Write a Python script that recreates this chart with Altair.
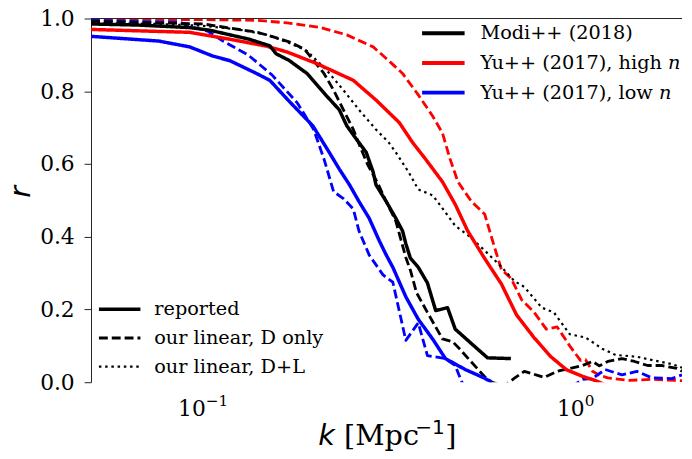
import altair as alt
import pandas as pd

# ---------------- data ----------------
modi_rep_k = [0.050, 0.067, 0.092, 0.104, 0.133, 0.151, 0.157, 0.170, 0.190, 0.215, 0.232, 0.243, 0.258, 0.274, 0.286,
              0.291, 0.310, 0.329, 0.343, 0.350, 0.360, 0.378, 0.400, 0.421, 0.453, 0.475, 0.520, 0.580, 0.670]
modi_rep_r = [0.985, 0.982, 0.975, 0.968, 0.943, 0.925, 0.903, 0.885, 0.849, 0.786, 0.749, 0.705, 0.668, 0.632, 0.578,
              0.543, 0.497, 0.451, 0.416, 0.381, 0.341, 0.316, 0.273, 0.197, 0.205, 0.146, 0.110, 0.067, 0.065]

yuh_rep_k = [0.050, 0.092, 0.118, 0.148, 0.168, 0.202, 0.253, 0.291, 0.336, 0.365, 0.395, 0.439, 0.475, 0.513, 0.570,
             0.632, 0.694, 0.774, 0.858, 0.946, 1.044, 1.127, 1.220]
yuh_rep_r = [0.970, 0.962, 0.943, 0.924, 0.908, 0.876, 0.830, 0.776, 0.714, 0.659, 0.614, 0.551, 0.489, 0.416, 0.340,
             0.270, 0.185, 0.122, 0.070, 0.034, 0.016, 0.005, -0.010]

yul_rep_k = [0.050, 0.076, 0.092, 0.106, 0.118, 0.139, 0.151, 0.170, 0.197, 0.218, 0.232, 0.247, 0.262, 0.279, 0.297,
             0.310, 0.323, 0.350, 0.378, 0.413, 0.447, 0.505, 0.570, 0.595]
yul_rep_r = [0.951, 0.938, 0.922, 0.897, 0.884, 0.849, 0.830, 0.773, 0.705, 0.632, 0.586, 0.543, 0.497, 0.451, 0.389,
             0.350, 0.316, 0.235, 0.173, 0.119, 0.065, 0.035, 0.011, 0.000]

modi_d_k = [0.050, 0.100, 0.114, 0.140, 0.155, 0.171, 0.187, 0.198, 0.211, 0.224, 0.238, 0.253, 0.262, 0.276, 0.295,
            0.310, 0.329, 0.350, 0.360, 0.374, 0.400, 0.439, 0.468, 0.490, 0.520, 0.570, 0.595, 0.644, 0.685, 0.728,
            0.790, 0.823, 0.892, 0.964, 1.044, 1.110, 1.158, 1.220, 1.332, 1.440, 1.560, 1.700, 1.870, 1.930]
modi_d_r = [0.992, 0.985, 0.976, 0.962, 0.949, 0.935, 0.916, 0.884, 0.849, 0.803, 0.749, 0.695, 0.655, 0.600, 0.545,
            0.497, 0.443, 0.343, 0.308, 0.246, 0.192, 0.119, 0.111, 0.090, 0.060, 0.015, 0.000, -0.010, 0.011, 0.030,
            0.019, 0.013, 0.030, 0.038, 0.046, 0.057, 0.045, 0.057, 0.065, 0.057, 0.046, 0.046, 0.038, 0.030]

modi_dl_k = [0.050, 0.076, 0.100, 0.124, 0.149, 0.168, 0.190, 0.215, 0.238, 0.262, 0.291, 0.315, 0.329, 0.356, 0.378,
             0.413, 0.439, 0.475, 0.520, 0.570, 0.625, 0.685, 0.728, 0.811, 0.874, 0.964, 1.063, 1.179, 1.280, 1.460,
             1.620, 1.810, 1.930]
modi_dl_r = [0.988, 0.985, 0.980, 0.970, 0.955, 0.935, 0.911, 0.857, 0.803, 0.749, 0.695, 0.659, 0.632, 0.578, 0.530,
             0.514, 0.478, 0.430, 0.400, 0.362, 0.322, 0.278, 0.262, 0.205, 0.192, 0.132, 0.123, 0.092, 0.075, 0.070,
             0.060, 0.050, 0.040]

yuh_d_k = [0.050, 0.100, 0.140, 0.168, 0.207, 0.243, 0.286, 0.315, 0.343, 0.378, 0.413, 0.439, 0.460, 0.483, 0.525,
           0.570, 0.606, 0.632, 0.671, 0.716, 0.774, 0.834, 0.892, 0.964, 1.030, 1.063, 1.110, 1.158, 1.220, 1.390,
           1.600, 1.930]
yuh_d_r = [0.998, 0.997, 0.995, 0.988, 0.975, 0.955, 0.922, 0.884, 0.849, 0.790, 0.732, 0.685, 0.614, 0.551, 0.497,
           0.462, 0.370, 0.310, 0.285, 0.227, 0.192, 0.146, 0.152, 0.100, 0.060, 0.062, 0.030, 0.019, 0.012, 0.005,
           0.008, 0.004]

yul_d_k = [0.050, 0.087, 0.094, 0.103, 0.113, 0.132, 0.153, 0.179, 0.198, 0.211, 0.224, 0.238, 0.253, 0.262, 0.279,
           0.304, 0.323, 0.350, 0.378, 0.400, 0.447, 0.475, 0.495, 0.530, 0.600, 1.000, 1.044, 1.110, 1.200, 1.332,
           1.460, 1.600, 1.810, 1.930]
yul_d_r = [0.995, 0.989, 0.976, 0.965, 0.938, 0.900, 0.845, 0.768, 0.695, 0.614, 0.524, 0.505, 0.476, 0.416, 0.350,
           0.295, 0.275, 0.115, 0.163, 0.073, 0.065, 0.046, 0.000, -0.030, -0.030, -0.005, 0.008, 0.010, 0.035, 0.020,
           0.030, 0.012, 0.010, 0.020]

SOURCES = ["Modi++ (2018)", "Yu++ (2017), high 𝑛", "Yu++ (2017), low 𝑛"]
KINDS = ["reported", "our linear, D only", "our linear, D+L"]

y_ticks = [0.0, 0.2, 0.4, 0.6, 0.8, 1.0]
x_major = [0.1, 1.0]
x_major_exp = ["−1", "0"]
x_minor = [0.05, 0.06, 0.07, 0.08, 0.09, 0.2, 0.3, 0.4, 0.5, 0.6, 0.7, 0.8, 0.9]

series = [
    (SOURCES[1], KINDS[1], yuh_d_k, yuh_d_r),
    (SOURCES[2], KINDS[1], yul_d_k, yul_d_r),
    (SOURCES[0], KINDS[2], modi_dl_k, modi_dl_r),
    (SOURCES[0], KINDS[1], modi_d_k, modi_d_r),
    (SOURCES[1], KINDS[0], yuh_rep_k, yuh_rep_r),
    (SOURCES[2], KINDS[0], yul_rep_k, yul_rep_r),
    (SOURCES[0], KINDS[0], modi_rep_k, modi_rep_r),
]
rows = []
for order, (src, kind, ks, rs) in enumerate(series):
    for kk, rr in zip(ks, rs):
        rows.append({"k": kk, "r": rr, "source": src, "kind": kind, "order": order})
df = pd.DataFrame(rows)

W, H = 598, 368
SERIF = "DejaVu Serif"
SANS = "DejaVu Sans"
AX = "#222222"
TICK_FS = 22
EXP_FS = 15.4
LEG_FS = 19.5
TITLE_FS = 29

x_ticks = sorted(x_minor + x_major)
XSCALE = alt.Scale(type="log", domain=[0.05, 1.93], nice=False)

style_legend = alt.Legend(title=None, orient="none", legendX=6, legendY=280,
                          direction="vertical", symbolType="stroke", symbolSize=1764,
                          symbolStrokeColor="black", clipHeight=28.5,
                          labelFont=SERIF, labelFontSize=LEG_FS, labelColor="black",
                          labelOffset=12, labelLimit=400, rowPadding=0, padding=0)

lines = alt.Chart(df).mark_line(clip=True, strokeCap="butt", strokeJoin="round", color="black").encode(
    x=alt.X("k:Q", scale=XSCALE,
            axis=alt.Axis(values=x_ticks, labels=False,
                          tickSize={"condition": {"test": "datum.value == 0.1 || datum.value == 1", "value": 7},
                                    "value": 4},
                          title=None, grid=False,
                          tickColor=AX, domainColor=AX, tickWidth=1, domainWidth=1)),
    y=alt.Y("r:Q",
            scale=alt.Scale(domain=[0, 1], nice=False, zero=False),
            axis=alt.Axis(values=y_ticks, format=".1f", title="r", grid=False,
                          titleFont=SANS, titleFontStyle="italic", titleFontWeight="normal",
                          titleFontSize=TITLE_FS, titleColor="black",
                          titleX=-62, titleY=175, titleAngle=270, titleAlign="center",
                          titleBaseline="alphabetic",
                          labelFont=SERIF, labelFontSize=TICK_FS, labelColor="black", labelPadding=10,
                          tickSize=7, tickColor=AX, domainColor=AX, tickWidth=1, domainWidth=1)),
    color=alt.Color("source:N",
                    scale=alt.Scale(domain=SOURCES, range=["black", "red", "blue"]),
                    legend=alt.Legend(title=None, orient="none", legendX=333, legendY=0,
                                      direction="vertical", symbolType="stroke", symbolSize=1849,
                                      symbolStrokeWidth=4, clipHeight=30,
                                      labelFont=SERIF, labelFontSize=LEG_FS,
                                      labelColor="black", labelOffset=14, labelLimit=400,
                                      rowPadding=0, padding=0)),
    strokeDash=alt.StrokeDash("kind:N",
                              scale=alt.Scale(domain=KINDS, range=[[1, 0], [9, 4], [2.5, 3.8]]),
                              legend=style_legend),
    strokeWidth=alt.StrokeWidth("kind:N",
                                scale=alt.Scale(domain=KINDS, range=[3.5, 2.2, 2.5]),
                                legend=style_legend),
    order=alt.Order("order:Q"),
)

top_spine = alt.Chart(pd.DataFrame({"a": [0]})).mark_rule(color=AX, strokeWidth=1).encode(
    x=alt.value(0), x2=alt.value(W), y=alt.value(0))

# x tick labels "10^-1", "10^0" built as base + raised exponent, placed on the x scale
tick_layers = []
for val, ex in zip(x_major, x_major_exp):
    exp_w = EXP_FS * (0.838 * ex.count("−") + 0.636 * sum(c.isdigit() for c in ex))
    base_w = TICK_FS * 0.636 * 2
    shift = base_w - (base_w + exp_w) / 2.0
    tdf = pd.DataFrame({"k": [val], "b": ["10"], "e": [ex]})
    tick_layers.append(alt.Chart(tdf).mark_text(
        font=SERIF, fontSize=TICK_FS, align="right", baseline="alphabetic", color="black", dx=shift
    ).encode(x=alt.X("k:Q", scale=XSCALE, axis=None), y=alt.value(402), text="b:N"))
    tick_layers.append(alt.Chart(tdf).mark_text(
        font=SERIF, fontSize=EXP_FS, align="left", baseline="alphabetic", color="black", dx=shift
    ).encode(x=alt.X("k:Q", scale=XSCALE, axis=None), y=alt.value(392.5), text="e:N"))

# x axis title: k [Mpc^-1]
title_k = alt.Chart(pd.DataFrame({"t": ["k"]})).mark_text(
    font=SANS, fontStyle="italic", fontSize=TITLE_FS, align="left", baseline="alphabetic", color="black"
).encode(text="t:N", x=alt.value(230), y=alt.value(432))
title_unit = alt.Chart(pd.DataFrame({"t": ["[Mpc"]})).mark_text(
    font=SERIF, fontSize=TITLE_FS, align="left", baseline="alphabetic", color="black"
).encode(text="t:N", x=alt.value(256), y=alt.value(432))
title_exp = alt.Chart(pd.DataFrame({"t": ["−1"]})).mark_text(
    font=SANS, fontSize=TITLE_FS * 0.7, align="left", baseline="alphabetic", color="black"
).encode(text="t:N", x=alt.value(328), y=alt.value(420))
title_close = alt.Chart(pd.DataFrame({"t": ["]"]})).mark_text(
    font=SERIF, fontSize=TITLE_FS, align="left", baseline="alphabetic", color="black"
).encode(text="t:N", x=alt.value(358.5), y=alt.value(432))

chart = alt.layer(lines, top_spine, *tick_layers, title_k, title_unit, title_exp, title_close).properties(
    width=W, height=H,
    autosize=alt.AutoSizeParams(type="none"),
    padding={"left": 84, "top": 8, "right": 2, "bottom": 71},
    background="white",
).configure_view(stroke=None)

chart.save("out.html", embed_options={"renderer": "svg", "actions": False})
